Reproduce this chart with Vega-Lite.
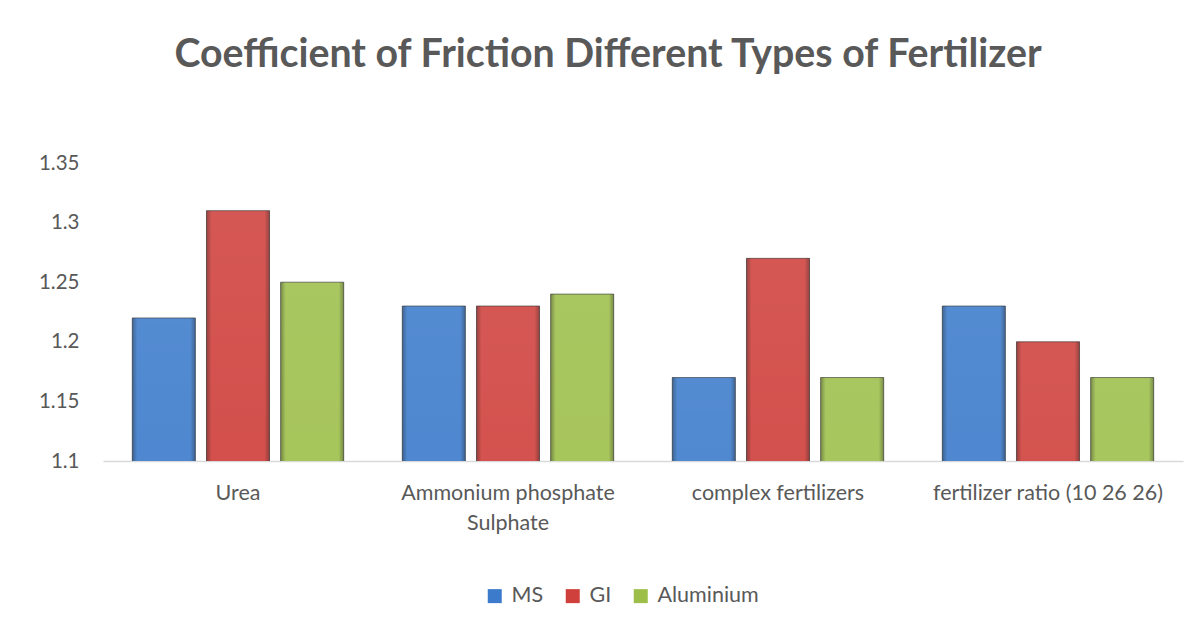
{
  "$schema": "https://vega.github.io/schema/vega-lite/v6.json",
  "autosize": {"type": "none"},
  "padding": {"left": 103, "top": 163, "right": 21, "bottom": 167},
  "width": 1080,
  "height": 298,
  "background": "white",
  "config": {
    "view": {"stroke": null},
    "font": "Lato",
    "axis": {"labelColor": "#595959", "labelFont": "Lato"},
    "legend": {"labelFont": "Lato"}
  },
  "title": {
    "text": "Coefficient of Friction Different Types of Fertilizer",
    "font": "Lato",
    "fontSize": 39.3,
    "fontWeight": "bold",
    "color": "#595959",
    "anchor": "middle",
    "frame": "group",
    "dx": -35,
    "offset": 78
  },
  "data": {
    "values": [
      {"type": "Urea", "metal": "MS", "cof": 1.22},
      {"type": "Urea", "metal": "GI", "cof": 1.31},
      {"type": "Urea", "metal": "Aluminium", "cof": 1.25},
      {"type": "Ammonium phosphate Sulphate", "metal": "MS", "cof": 1.23},
      {"type": "Ammonium phosphate Sulphate", "metal": "GI", "cof": 1.23},
      {"type": "Ammonium phosphate Sulphate", "metal": "Aluminium", "cof": 1.24},
      {"type": "complex fertilizers", "metal": "MS", "cof": 1.17},
      {"type": "complex fertilizers", "metal": "GI", "cof": 1.27},
      {"type": "complex fertilizers", "metal": "Aluminium", "cof": 1.17},
      {"type": "fertilizer ratio (10 26 26)", "metal": "MS", "cof": 1.23},
      {"type": "fertilizer ratio (10 26 26)", "metal": "GI", "cof": 1.2},
      {"type": "fertilizer ratio (10 26 26)", "metal": "Aluminium", "cof": 1.17}
    ]
  },
  "encoding": {
    "x": {
      "field": "type",
      "type": "nominal",
      "sort": null,
      "scale": {"paddingInner": 0.217, "paddingOuter": 0.1085},
      "axis": {
        "title": null,
        "labelAngle": 0,
        "ticks": false,
        "domainColor": "#D9D9D9",
        "domainWidth": 1.5,
        "labelFontSize": 21.5,
        "labelPadding": 32,
        "labelLineHeight": 30,
        "labelLimit": 0,
        "labelBaseline": "middle",
        "labelExpr": "datum.value == 'Ammonium phosphate Sulphate' ? ['Ammonium phosphate', 'Sulphate'] : datum.label"
      }
    },
    "xOffset": {
      "field": "metal",
      "type": "nominal",
      "sort": ["MS", "GI", "Aluminium"],
      "scale": {"paddingInner": 0.15, "paddingOuter": 0}
    },
    "y": {
      "field": "cof",
      "type": "quantitative",
      "scale": {"domain": [1.1, 1.35], "zero": false, "nice": false},
      "axis": {
        "title": null,
        "values": [1.1, 1.15, 1.2, 1.25, 1.3, 1.35],
        "grid": false,
        "domain": false,
        "ticks": false,
        "labelFontSize": 20.5,
        "labelPadding": 24,
        "labelExpr": "format(datum.value, '.2~f')"
      }
    }
  },
  "layer": [
    {
      "mark": {"type": "bar", "clip": true, "opacity": 1, "strokeWidth": 1, "strokeOpacity": 0.6, "stroke": "#222222"},
      "encoding": {
        "color": {
          "field": "metal",
          "type": "nominal",
          "scale": {"domain": ["MS", "GI", "Aluminium"], "range": ["#3C7BCB", "#CF403C", "#9DBF4A"]},
          "legend": {
            "title": null,
            "orient": "none",
            "direction": "horizontal",
            "legendX": 381,
            "legendY": 422,
            "padding": 0,
            "symbolType": "square",
            "symbolSize": 196,
            "symbolStrokeWidth": 0,
            "symbolOpacity": 1,
            "labelFontSize": 21.5,
            "labelColor": "#595959",
            "labelOffset": 6,
            "columnPadding": 18
          }
        }
      }
    },
    {
      "mark": {
        "type": "bar",
        "clip": true,
        "opacity": 1,
        "color": {
          "x1": 0, "y1": 0, "x2": 1, "y2": 0,
          "gradient": "linear",
          "stops": [
            {"offset": 0, "color": "rgba(0,0,0,0.35)"},
            {"offset": 0.08, "color": "rgba(0,0,0,0.0)"},
            {"offset": 0.92, "color": "rgba(0,0,0,0.0)"},
            {"offset": 1, "color": "rgba(0,0,0,0.35)"}
          ]
        }
      }
    },
    {
      "mark": {
        "type": "bar",
        "clip": true,
        "opacity": 1,
        "color": {
          "x1": 0, "y1": 0, "x2": 0, "y2": 1,
          "gradient": "linear",
          "stops": [
            {"offset": 0, "color": "rgba(255,255,255,0.12)"},
            {"offset": 0.5, "color": "rgba(255,255,255,0.0)"},
            {"offset": 1, "color": "rgba(0,0,0,0.15)"}
          ]
        }
      }
    }
  ]
}
